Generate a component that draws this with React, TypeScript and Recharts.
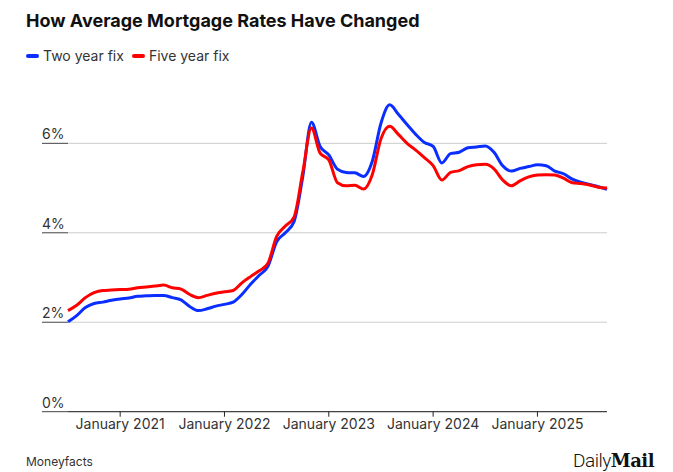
import { LineChart, Line, XAxis, YAxis, CartesianGrid } from 'recharts'

const months = [
  'Jul 2020', 'Aug 2020', 'Sep 2020', 'Oct 2020', 'Nov 2020', 'Dec 2020',
  'Jan 2021', 'Feb 2021', 'Mar 2021', 'Apr 2021', 'May 2021', 'Jun 2021',
  'Jul 2021', 'Aug 2021', 'Sep 2021', 'Oct 2021', 'Nov 2021', 'Dec 2021',
  'Jan 2022', 'Feb 2022', 'Mar 2022', 'Apr 2022', 'May 2022', 'Jun 2022',
  'Jul 2022', 'Aug 2022', 'Sep 2022', 'Oct 2022', 'Nov 2022', 'Dec 2022',
  'Jan 2023', 'Feb 2023', 'Mar 2023', 'Apr 2023', 'May 2023', 'Jun 2023',
  'Jul 2023', 'Aug 2023', 'Sep 2023', 'Oct 2023', 'Nov 2023', 'Dec 2023',
  'Jan 2024', 'Feb 2024', 'Mar 2024', 'Apr 2024', 'May 2024', 'Jun 2024',
  'Jul 2024', 'Aug 2024', 'Sep 2024', 'Oct 2024', 'Nov 2024', 'Dec 2024',
  'Jan 2025', 'Feb 2025', 'Mar 2025', 'Apr 2025', 'May 2025', 'Jun 2025',
  'Jul 2025', 'Aug 2025', 'Sep 2025',
]

// average rates, %
const twoYear = [
  2.01, 2.15, 2.33, 2.42, 2.45, 2.49, 2.52, 2.54, 2.58, 2.59,
  2.60, 2.60, 2.55, 2.50, 2.35, 2.26, 2.30, 2.36, 2.40, 2.45,
  2.62, 2.85, 3.05, 3.25, 3.80, 4.00, 4.25, 5.25, 6.47, 5.93,
  5.74, 5.42, 5.35, 5.34, 5.26, 5.60, 6.45, 6.86, 6.65, 6.42,
  6.20, 6.02, 5.93, 5.56, 5.77, 5.80, 5.90, 5.92, 5.94, 5.80,
  5.50, 5.38, 5.44, 5.48, 5.52, 5.50, 5.38, 5.32, 5.20, 5.13,
  5.08, 5.03, 4.97,
]

const fiveYear = [
  2.26, 2.38, 2.55, 2.66, 2.71, 2.72, 2.73, 2.74, 2.77, 2.79,
  2.81, 2.83, 2.77, 2.74, 2.62, 2.55, 2.60, 2.65, 2.68, 2.71,
  2.88, 3.02, 3.15, 3.32, 3.92, 4.15, 4.35, 5.35, 6.34, 5.78,
  5.63, 5.12, 5.05, 5.06, 4.98, 5.30, 6.10, 6.38, 6.20, 6.00,
  5.85, 5.68, 5.50, 5.18, 5.35, 5.39, 5.48, 5.52, 5.53, 5.43,
  5.18, 5.05, 5.16, 5.25, 5.29, 5.30, 5.29, 5.22, 5.12, 5.10,
  5.07, 5.02, 5.00,
]

const xTicks = [6, 18, 30, 42, 54]
const xTickLabels = ['January 2021', 'January 2022', 'January 2023', 'January 2024', 'January 2025']
const yTicks = [0, 2, 4, 6]

const BLUE = '#0a2eff'
const RED = '#ff0000'
const FONT = 'Inter, "Noto Sans", sans-serif'

const data = months.map((m, i) => ({ i, m, two: twoYear[i], five: fiveYear[i] }))

function YTick({ y, payload }: any) {
  return (
    <g>
      <text x={42} y={y - 4} fontSize={14} fill="#333" fontFamily={FONT}>{payload.value}%</text>
      <line x1={42} x2={68} y1={y} y2={y} stroke="#444" strokeWidth={1} />
    </g>
  )
}

function LegendItem({ color, label }: { color: string; label: string }) {
  return (
    <span style={{ display: 'inline-flex', alignItems: 'center', marginRight: 8 }}>
      <span style={{ width: 13, height: 4, borderRadius: 2, background: color, marginRight: 4 }} />
      <span>{label}</span>
    </span>
  )
}

export default function App() {
  return (
    <div style={{ position: 'absolute', left: 0, top: 0, width: 673, height: 472, background: '#fff', fontFamily: FONT, color: '#222' }}>
      <div style={{ position: 'absolute', left: 26, top: 10, fontSize: 18, fontWeight: 700, color: '#111' }}>
        How Average Mortgage Rates Have Changed
      </div>
      <div style={{ position: 'absolute', left: 26, top: 47, fontSize: 14, color: '#333', display: 'flex' }}>
        <LegendItem color={BLUE} label="Two year fix" />
        <LegendItem color={RED} label="Five year fix" />
      </div>

      <div style={{ position: 'absolute', left: 0, top: 0 }}>
        <LineChart width={673} height={472} data={data} margin={{ top: 98.6, right: 66, bottom: 0, left: 42 }}>
          <CartesianGrid vertical={false} stroke="#cccccc" horizontalValues={yTicks} />
          <XAxis
            dataKey="i" type="number" domain={[0, 62]} ticks={xTicks} height={60.3}
            tickFormatter={(v: number) => xTickLabels[xTicks.indexOf(v)]}
            axisLine={{ stroke: '#222' }} tickLine={{ stroke: '#222' }} tickSize={5}
            tick={{ fontSize: 14, fill: '#333', fontFamily: FONT }}
            interval={0}
          />
          <YAxis
            domain={[0, 7]} ticks={yTicks} width={26}
            axisLine={false} tickLine={false} tick={<YTick />}
          />
          <Line type="monotone" dataKey="two" stroke={BLUE} strokeWidth={3} dot={false} isAnimationActive={false} />
          <Line type="monotone" dataKey="five" stroke={RED} strokeWidth={3} dot={false} isAnimationActive={false} />
        </LineChart>
      </div>

      <div style={{ position: 'absolute', left: 26, top: 454, fontSize: 12, color: '#333' }}>Moneyfacts</div>
      <div style={{ position: 'absolute', left: 573, top: 449, display: 'flex', alignItems: 'baseline', color: '#111' }}>
        <span style={{ fontSize: 19, fontWeight: 300, letterSpacing: -0.5, fontFamily: 'Roboto, sans-serif' }}>Daily</span>
        <span style={{ fontSize: 18, fontWeight: 900, fontFamily: '"DejaVu Serif", serif', letterSpacing: -0.5 }}>Mail</span>
      </div>
    </div>
  )
}
